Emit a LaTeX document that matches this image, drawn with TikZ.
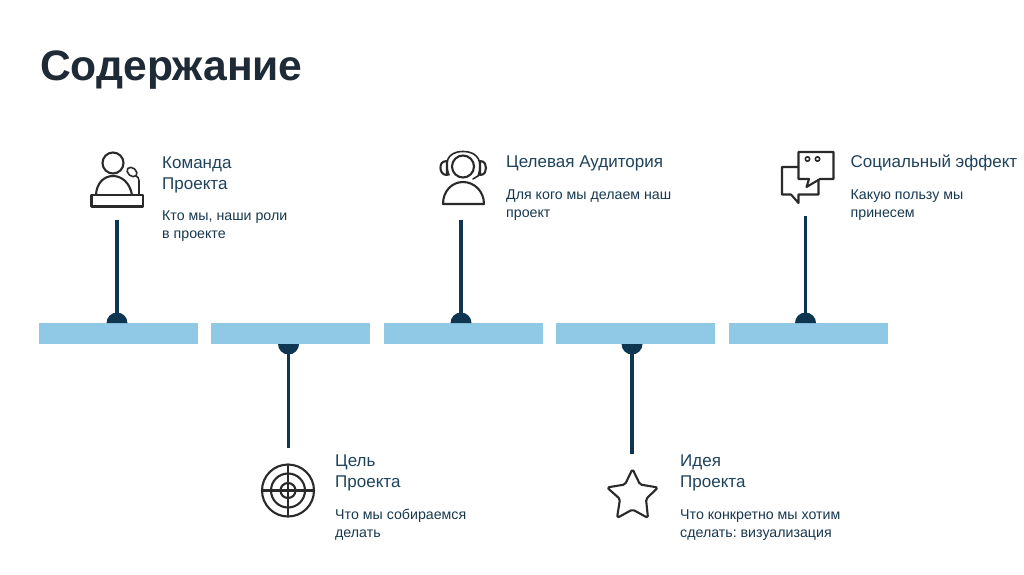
\documentclass[tikz,border=0pt]{standalone}
\usepackage{fontspec}
\setmainfont{Liberation Sans}
\frenchspacing
\definecolor{navy}{HTML}{0F3651}
\definecolor{barblue}{HTML}{8FC9E6}
\definecolor{titlec}{HTML}{1E2A36}
\definecolor{headc}{HTML}{1F435C}
\definecolor{subc}{HTML}{17384F}
\definecolor{iconc}{HTML}{2A2A2A}
\tikzset{
 bar/.style={fill=barblue,draw=none,inner sep=0pt,minimum width=158.5pt,minimum height=21pt,anchor=north west},
 stem/.style={draw=navy,line width=3.4pt},
 head/.style={anchor=base west,inner sep=0pt,font=\fontsize{17}{20}\selectfont,text=headc},
 subt/.style={anchor=base west,inner sep=0pt,font=\frenchspacing\fontsize{14.2}{17}\selectfont,text=subc},
 icon/.style={draw=iconc,line width=2.1pt,line join=round,line cap=round},
 icont/.style={draw=iconc,line width=1.6pt,line join=round,line cap=round},
}
\begin{document}
\begin{tikzpicture}[x=1pt,y=-1pt]
\useasboundingbox (0,0) rectangle (1024,574);
\fill[white] (0,0) rectangle (1024,574);
\node[anchor=base west,inner sep=0pt,font=\bfseries\fontsize{42.6}{48}\selectfont,text=titlec] (title) at (40,80) {Содержание};

% bars
\node[bar] (b1) at (39,323) {};
\node[bar] (b2) at (211,323) {};
\node[bar] (b3) at (384,323) {};
\node[bar] (b4) at (556,323) {};
\node[bar] (b5) at (729,323) {};

% anchors on bars
\coordinate (d1) at (117,323);
\coordinate (d2) at (288.5,344);
\coordinate (d3) at (461,323);
\coordinate (d4) at (632,344);
\coordinate (d5) at (805.5,323);
\coordinate (e1) at (117,220);
\coordinate (e2) at (288.5,448);
\coordinate (e3) at (461,220);
\coordinate (e4) at (632,454);
\coordinate (e5) at (805.5,216);

% stems and half discs
\draw[stem] (e1) -- (d1);
\draw[stem] (e2) -- (d2);
\draw[stem] (e3) -- (d3);
\draw[stem] (e4) -- (d4);
\draw[stem] (e5) -- (d5);
\fill[navy] (d1) ++(-10.5,0) arc[start angle=180,end angle=360,radius=10.5] -- cycle;
\fill[navy] (d3) ++(-10.5,0) arc[start angle=180,end angle=360,radius=10.5] -- cycle;
\fill[navy] (d5) ++(-10.5,0) arc[start angle=180,end angle=360,radius=10.5] -- cycle;
\fill[navy] (d2) ++(-10.5,0) arc[start angle=180,end angle=0,radius=10.5] -- cycle;
\fill[navy] (d4) ++(-10.5,0) arc[start angle=180,end angle=0,radius=10.5] -- cycle;

% texts
\node[head] (h1a) at (162,168) {Команда};
\node[head] (h1b) at (162,189) {Проекта};
\node[subt] (s1a) at (162,220) {Кто мы, наши роли};
\node[subt] (s1b) at (162,238) {в проекте};

\node[head] (h2a) at (335,466) {Цель};
\node[head] (h2b) at (335,487) {Проекта};
\node[subt] (s2a) at (335,519) {Что мы собираемся};
\node[subt] (s2b) at (335,537) {делать};

\node[head] (h3a) at (506,167) {Целевая Аудитория};
\node[subt] (s3a) at (506,199) {Для кого мы делаем наш};
\node[subt] (s3b) at (506,217) {проект};

\node[head] (h4a) at (680,466) {Идея};
\node[head] (h4b) at (680,487) {Проекта};
\node[subt] (s4a) at (680,519) {Что конкретно мы хотим};
\node[subt] (s4b) at (680,537) {сделать: визуализация};

\node[head] (h5a) at (850.5,167) {Социальный эффект};
\node[subt] (s5a) at (850.5,199) {Какую пользу мы};
\node[subt] (s5b) at (850.5,217) {принесем};

% icon 1: speaker at lectern
\draw[icon] (91.5,195) rectangle (143,206.5);
\draw[icon] (113,163) circle (10.5);
\draw[icon] (96,195) .. controls (96.5,183) and (104,176) .. (113,176) .. controls (122,176) and (130,183) .. (132,195);
\draw[icont] (139,195) -- (139,181) .. controls (139,178) and (138,177) .. (136,176);
\draw[icont,rotate around={-40:(132,172)}] (132,172) ellipse (5.5 and 4);

% icon 2: headset person
\draw[icon] (463,166.5) circle (11);
\draw[icon] (443,204) .. controls (443,191) and (452,182) .. (463,182) .. controls (474,182) and (484,191) .. (484,204) -- cycle;
\draw[icont] (449,175) .. controls (444,163) and (447,151.5) .. (463,151.5) .. controls (479,151.5) and (483,163) .. (478,176) -- (473,179);
\draw[icon] (447,161) .. controls (441,161) and (440.5,165) .. (440.5,168) .. controls (440.5,171) and (442,175) .. (447,175) -- cycle;
\draw[icon] (480,161) .. controls (485,161) and (486,165) .. (486,168) .. controls (486,171) and (485,175) .. (480,175) -- cycle;

% icon 3: speech bubbles
\draw[icon] (798.5,167) -- (782,167) -- (782,194.5) -- (791,194.5) -- (798.5,203) -- (798.5,194.5) -- (818.5,194.5) -- (818.5,179);
\fill[white] (798.5,152) rectangle (833.5,179);
\draw[icon] (798.5,152) -- (833.5,152) -- (833.5,179) -- (820,179) -- (806.5,187) -- (809,179) -- (798.5,179) -- cycle;
\draw[icont] (807.5,159) circle (2.2);
\draw[icont] (817.5,159) circle (2.2);

% icon 4: target
\draw[icon] (288,490.5) circle (26);
\draw[icon] (288,490.5) circle (17);
\draw[icon] (288,490.5) circle (7.5);
\draw[icon] (288,464.5) -- (288,516.5);
\draw[icon] (262,490.5) -- (314,490.5);

% icon 5: star
\draw[icon,rounded corners=1.8pt] (632.5,469) -- (640,484.5) -- (658,487.5) -- (646,499) -- (648,518) -- (632.5,509.5) -- (617,518) -- (620,499) -- (607,487.5) -- (625,484.5) -- cycle;
\end{tikzpicture}
\end{document}
